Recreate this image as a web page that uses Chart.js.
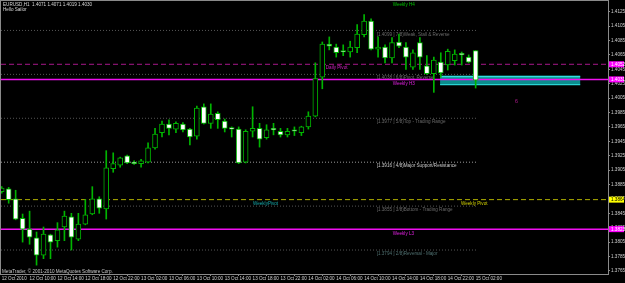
<!DOCTYPE html>
<html>
<head>
<meta charset="utf-8">
<script src="https://cdn.jsdelivr.net/npm/chart.js@4.4.0/dist/chart.umd.min.js"></script>
<style>
  html, body { margin: 0; padding: 0; background: #000; }
  canvas { display: block; }
</style>
</head>
<body>
<canvas id="chart" width="625" height="283"></canvas>
<script>
// EURUSD H1, one candle per hour from 12 Oct 2010 06:00 to 15 Oct 02:00
const opens = [
  1.3875, 1.3879, 1.3865, 1.3838, 1.3823, 1.3811, 1.3787, 1.3815, 1.3807, 1.3826,
  1.3840, 1.3809, 1.3830, 1.3844, 1.3865, 1.3851, 1.3907, 1.3912, 1.3925, 1.3915,
  1.3914, 1.3916, 1.3936, 1.3957, 1.3969, 1.3962, 1.3969, 1.3962, 1.3952, 1.3993,
  1.3970, 1.3984, 1.3973, 1.3963, 1.3962, 1.3916, 1.3959, 1.3963, 1.3950, 1.3962,
  1.3959, 1.3954, 1.3961, 1.3957, 1.3965, 1.3980, 1.4034, 1.4080, 1.4076, 1.4070,
  1.4069, 1.4075, 1.4093, 1.4112, 1.4073, 1.4076, 1.4061, 1.4083, 1.4076, 1.4048,
  1.4082, 1.4050, 1.4039, 1.4055, 1.4051, 1.4057, 1.4066, 1.4062, 1.4071
];
const highs = [
  1.3882, 1.3881, 1.3877, 1.3844, 1.3848, 1.3819, 1.3826, 1.3816, 1.3832, 1.3848,
  1.3845, 1.3845, 1.3864, 1.3882, 1.3868, 1.3932, 1.3929, 1.3923, 1.3926, 1.3918,
  1.3920, 1.3943, 1.3963, 1.3973, 1.3975, 1.3972, 1.3971, 1.3963, 1.3994, 1.3997,
  1.3997, 1.3986, 1.3976, 1.3965, 1.3965, 1.3961, 1.3993, 1.3970, 1.3968, 1.3970,
  1.3963, 1.3963, 1.3965, 1.3966, 1.3986, 1.4054, 1.4083, 1.4090, 1.4080, 1.4079,
  1.4084, 1.4107, 1.4121, 1.4115, 1.4090, 1.4079, 1.4089, 1.4094, 1.4082, 1.4072,
  1.4089, 1.4064, 1.4062, 1.4068, 1.4073, 1.4072, 1.4069, 1.4065, 1.4071
];
const lows = [
  1.3873, 1.3859, 1.3836, 1.3805, 1.3802, 1.3773, 1.3782, 1.3782, 1.3798, 1.3807,
  1.3794, 1.3807, 1.3829, 1.3843, 1.3845, 1.3837, 1.3902, 1.3909, 1.3914, 1.3913,
  1.3909, 1.3915, 1.3934, 1.3951, 1.3954, 1.3957, 1.3958, 1.3940, 1.3948, 1.3969,
  1.3963, 1.3963, 1.3958, 1.3951, 1.3914, 1.3915, 1.3951, 1.3937, 1.3948, 1.3954,
  1.3951, 1.3951, 1.3953, 1.3953, 1.3962, 1.3979, 1.4018, 1.4072, 1.4062, 1.4064,
  1.4062, 1.4068, 1.4090, 1.4072, 1.4062, 1.4054, 1.4054, 1.4075, 1.4045, 1.4045,
  1.4045, 1.4038, 1.4013, 1.4034, 1.4044, 1.4051, 1.4051, 1.4054, 1.4019
];
const closes = [
  1.3880, 1.3864, 1.3837, 1.3823, 1.3812, 1.3787, 1.3816, 1.3805, 1.3822, 1.3841,
  1.3812, 1.3830, 1.3843, 1.3865, 1.3852, 1.3908, 1.3914, 1.3922, 1.3915, 1.3914,
  1.3918, 1.3936, 1.3955, 1.3969, 1.3963, 1.3970, 1.3961, 1.3951, 1.3991, 1.3970,
  1.3983, 1.3975, 1.3963, 1.3962, 1.3915, 1.3959, 1.3963, 1.3948, 1.3961, 1.3961,
  1.3954, 1.3959, 1.3959, 1.3965, 1.3980, 1.4032, 1.4080, 1.4077, 1.4068, 1.4069,
  1.4076, 1.4094, 1.4112, 1.4073, 1.4076, 1.4061, 1.4082, 1.4077, 1.4062, 1.4068,
  1.4062, 1.4039, 1.4058, 1.4040, 1.4070, 1.4066, 1.4065, 1.4055, 1.4030
];

// time axis labels, one every 4 bars
const timeLabels = [
  "12 Oct 2010", "12 Oct 10:00", "12 Oct 14:00", "12 Oct 18:00", "12 Oct 22:00",
  "13 Oct 02:00", "13 Oct 06:00", "13 Oct 10:00", "13 Oct 14:00", "13 Oct 18:00",
  "13 Oct 22:00", "14 Oct 02:00", "14 Oct 06:00", "14 Oct 10:00", "14 Oct 14:00",
  "14 Oct 18:00", "14 Oct 22:00", "15 Oct 02:00"
];
const priceTicks = [
  1.3765, 1.3785, 1.3805, 1.3825, 1.3845, 1.3865, 1.3885, 1.3905, 1.3925, 1.3945,
  1.3965, 1.3985, 1.4005, 1.4025, 1.4045, 1.4065, 1.4085, 1.4105, 1.4125
];

// Murrey math levels
const murreyLevels = [1.4099, 1.4038, 1.3977, 1.3916, 1.3855, 1.3794];
const murreyNames = [
  "7/8)Weak, Stall & Reverse", "6/8)Pivot, Reverse", "5/8)Top - Trading Range",
  "4/8)Major Support/Resistance", "3/8)Bottom - Trading Range", "2/8)Reversal - Major"
];

// pivot levels
const weeklyH4 = 1.4140;
const dailyPivot = 1.4052;
const weeklyH3 = 1.4031;
const weeklyPivot = 1.3864;
const weeklyL3 = 1.3823;
const markerPrice = 1.4002;

// zone box (bar index range, price range)
const zoneFrom = 62.9, zoneTo = 83.0, zoneTop = 1.4036, zoneBottom = 1.4023;

const xMin = -0.1, xMax = 86.99;
const yMin = 1.37607, yMax = 1.41399;

const FONT = '"Liberation Sans", Arial, sans-serif';
const GREEN = '#00b400';

const hline = (price, from, to, color, dash, width) => ({
  type: 'line',
  data: [{ x: from, y: price }, { x: to, y: price }],
  borderColor: color,
  borderWidth: width || 1,
  borderDash: dash || [],
  pointRadius: 0,
  fill: false,
  order: 5
});

const overlay = {
  id: 'overlay',
  beforeDatasetsDraw(chart) {
    const { ctx, scales: { x, y } } = chart;
    ctx.save();
    // zone rectangle
    const zx0 = x.getPixelForValue(zoneFrom), zx1 = x.getPixelForValue(zoneTo);
    const zy0 = y.getPixelForValue(zoneTop), zy1 = y.getPixelForValue(zoneBottom);
    ctx.fillStyle = '#0b8c8c';
    ctx.fillRect(zx0, zy0, zx1 - zx0, zy1 - zy0);
    ctx.fillStyle = '#30e0e0';
    ctx.fillRect(zx0, zy0, zx1 - zx0, 1.5);
    ctx.fillRect(zx0, zy1 - 1, zx1 - zx0, 1);

    ctx.font = `4.6px ${FONT}`;
    ctx.textBaseline = 'top';
    const lx = x.getPixelForValue(53.8);
    murreyLevels.forEach((lv, k) => {
      ctx.fillStyle = k === 3 ? '#c8c8c8' : (k === 5 ? '#4f7070' : '#6a6a6a');
      ctx.fillText(`[${lv.toFixed(4)} ] ${murreyNames[k]}`, lx, y.getPixelForValue(lv) + 1.5);
    });

    const hx = x.getPixelForValue(56.1);
    ctx.fillStyle = '#00c000';
    ctx.fillText('Weekly H4', hx, y.getPixelForValue(weeklyH4) + 2);
    ctx.fillStyle = '#d020c0';
    ctx.fillText('Daily Pivot', x.getPixelForValue(46.5), y.getPixelForValue(dailyPivot) + 1.5);
    ctx.fillStyle = '#e020e0';
    ctx.fillText('Weekly H3', hx, y.getPixelForValue(weeklyH3) + 2);
    ctx.fillText('Weekly L3', hx, y.getPixelForValue(weeklyL3) + 2);
    ctx.fillStyle = '#14a8a8';
    ctx.fillText('WeeklyPivot', x.getPixelForValue(36.05), y.getPixelForValue(weeklyPivot) + 2);
    ctx.fillStyle = '#d0d000';
    ctx.fillText('Weekly Pivot', x.getPixelForValue(65.9), y.getPixelForValue(weeklyPivot) + 2);
    ctx.fillStyle = '#a01880';
    ctx.font = `6px ${FONT}`;
    ctx.fillText('6', x.getPixelForValue(73.6), y.getPixelForValue(markerPrice) - 2);
    ctx.restore();
  },
  afterDraw(chart) {
    const { ctx, chartArea: a, scales: { y } } = chart;
    ctx.save();
    ctx.strokeStyle = '#8a8a8a';
    ctx.lineWidth = 1;
    ctx.strokeRect(a.left - 0.5, a.top - 0.5, a.right - a.left + 1, a.bottom - a.top + 1);

    ctx.font = `4.6px ${FONT}`;
    ctx.textBaseline = 'middle';
    ctx.fillStyle = '#d8d8d8';
    ctx.fillText('EURUSD,H1  1.4071 1.4071 1.4019 1.4030', a.left + 2, a.top + 4);
    ctx.fillText('Hello Sailor', a.left + 2, a.top + 9);
    ctx.fillStyle = '#c8c8c8';
    ctx.fillText('MetaTrader, \u00a9 2001-2010 MetaQuotes Software Corp.', a.left + 1, a.bottom - 2.5);

    // price tags on the right axis
    const tags = [
      [dailyPivot, '#ff00ff', '#ffffff'],
      [weeklyH3, '#ff00ff', '#ffffff'],
      [weeklyPivot, '#ffff00', '#000000'],
      [weeklyL3, '#ff00ff', '#ffffff']
    ];
    tags.forEach(([p, bg, fg]) => {
      const py = y.getPixelForValue(p);
      ctx.fillStyle = bg;
      ctx.fillRect(a.right + 1, py - 3, 15, 6);
      ctx.fillStyle = fg;
      ctx.fillText(p.toFixed(4), a.right + 3, py + 0.3);
    });
    ctx.restore();
  }
};

const ctx = document.getElementById('chart').getContext('2d');
const candleChart = new Chart(ctx, {
  type: 'bar',
  data: {
    datasets: [
      {
        // candle bodies
        data: opens.map((o, i) => ({ x: i, y: [o, closes[i]] })),
        backgroundColor: opens.map((o, i) => (closes[i] >= o ? '#000000' : '#ffffff')),
        borderColor: GREEN,
        borderWidth: 1,
        borderSkipped: false,
        barThickness: 5,
        minBarLength: 1.5,
        grouped: false,
        order: 0
      },
      {
        // wicks
        data: lows.map((l, i) => ({ x: i, y: [l, highs[i]] })),
        backgroundColor: GREEN,
        borderWidth: 0,
        barThickness: 1,
        grouped: false,
        order: 1
      },
      ...murreyLevels.map((lv, k) => hline(lv, xMin, 68.2, k === 3 ? '#9a9a9a' : '#555555', [1, 2])),
      hline(dailyPivot, xMin, xMax, '#a8188a', [5, 3]),
      hline(weeklyPivot, xMin, xMax, '#b0b000', [5, 3]),
      hline(weeklyH3, xMin, xMax, '#f010f0', [], 1.5),
      hline(weeklyL3, xMin, xMax, '#f010f0', [], 1.5)
    ]
  },
  options: {
    responsive: false,
    animation: false,
    devicePixelRatio: 1,
    layout: { padding: { left: 1, top: 1, right: 0, bottom: 0 } },
    plugins: { legend: { display: false }, tooltip: { enabled: false } },
    scales: {
      x: {
        type: 'linear',
        min: xMin,
        max: xMax,
        offset: false,
        border: { display: false },
        grid: { drawOnChartArea: false, drawTicks: true, tickLength: 2, color: '#8a8a8a' },
        ticks: {
          autoSkip: false,
          maxRotation: 0,
          align: 'start',
          padding: 0,
          color: '#d0d0d0',
          font: { family: FONT, size: 4.6 },
          callback: (v, i) => timeLabels[i]
        },
        afterBuildTicks: (s) => { s.ticks = timeLabels.map((_, k) => ({ value: k * 4 })); },
        afterFit: (s) => { s.height = 9; s.paddingLeft = 0; s.paddingRight = 0; }
      },
      y: {
        type: 'linear',
        position: 'right',
        min: yMin,
        max: yMax,
        border: { display: false },
        grid: { drawOnChartArea: false, drawTicks: true, tickLength: 2, color: '#8a8a8a' },
        ticks: {
          padding: 1,
          color: '#d0d0d0',
          font: { family: FONT, size: 4.6 },
          callback: (v) => v.toFixed(4)
        },
        afterBuildTicks: (s) => { s.ticks = priceTicks.map((v) => ({ value: v })); },
        afterFit: (s) => { s.width = 17; s.paddingTop = 0; s.paddingBottom = 0; }
      }
    }
  },
  plugins: [overlay]
});
</script>
</body>
</html>
